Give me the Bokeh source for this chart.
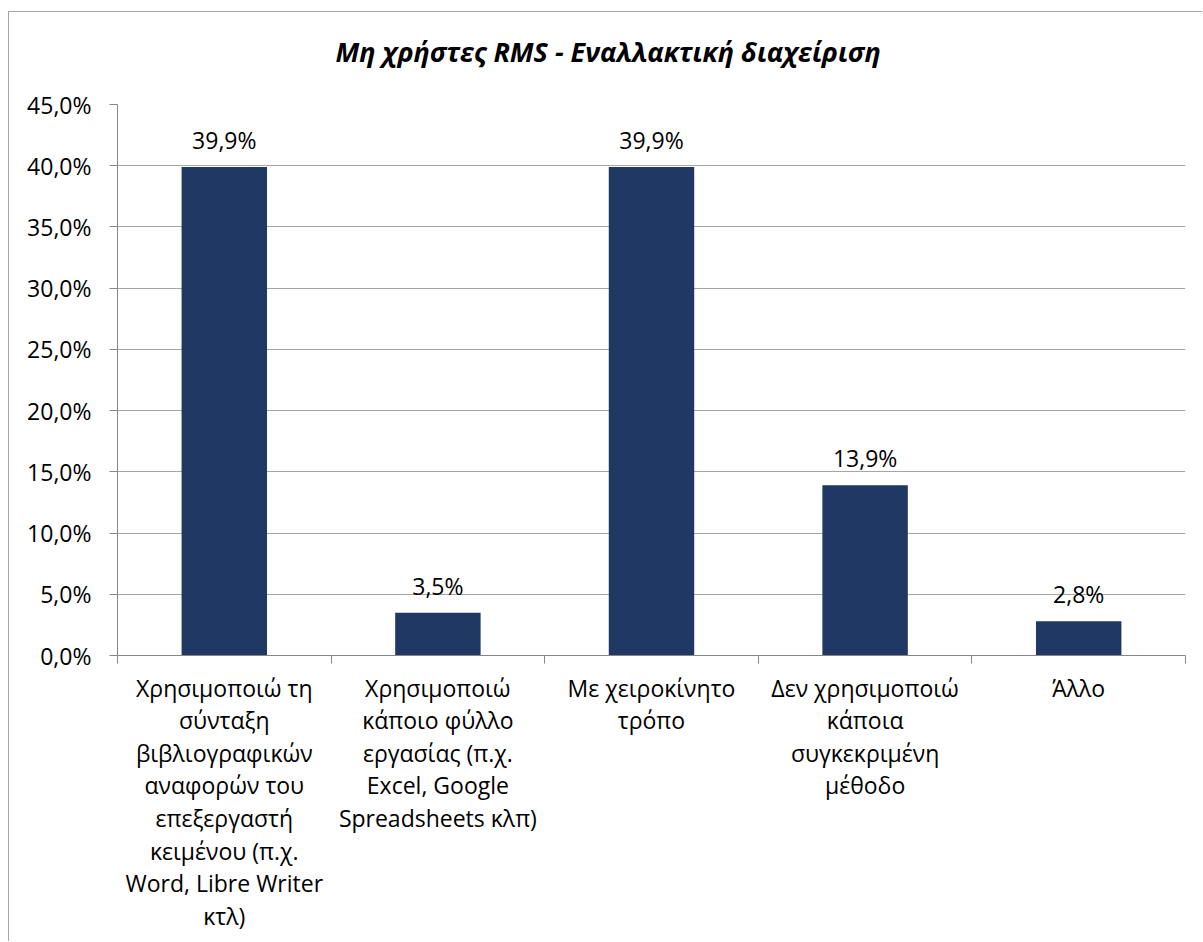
from bokeh.plotting import figure
from bokeh.models import Range1d, FixedTicker, ColumnDataSource, InlineStyleSheet, Title
from bokeh.core.properties import value
from bokeh.embed import file_html
from bokeh.resources import INLINE

title_text = "Μη χρήστες RMS - Εναλλακτική διαχείριση"
categories = [
    "Χρησιμοποιώ τη\nσύνταξη\nβιβλιογραφικών\nαναφορών του\nεπεξεργαστή\nκειμένου (π.χ.\nWord, Libre Writer\nκτλ)",
    "Χρησιμοποιώ\nκάποιο φύλλο\nεργασίας (π.χ.\nExcel, Google\nSpreadsheets κλπ)",
    "Με χειροκίνητο\nτρόπο",
    "Δεν χρησιμοποιώ\nκάποια\nσυγκεκριμένη\nμέθοδο",
    "Άλλο",
]
values = [39.9, 3.5, 39.9, 13.9, 2.8]
y_ticks = [0, 5, 10, 15, 20, 25, 30, 35, 40, 45]

FONT = "Open Sans"
BAR = "#203864"
GRID = "#a6a6a6"
AXIS = "#868686"

n = len(categories)
xs = [i + 0.5 for i in range(n)]
labels = [f"{v:.1f}".replace(".", ",") + "%" for v in values]
src = ColumnDataSource(dict(x=xs, top=values, lab=labels))

W, H = 1194, 930
p = figure(width=W, height=H, output_backend="svg", toolbar_location=None,
           x_range=Range1d(0, n), y_range=Range1d(0, 45),
           min_border_left=108, min_border_right=18,
           min_border_top=92, min_border_bottom=287,
           stylesheets=[InlineStyleSheet(css=":host { border-left: 1px solid #a6a6a6; border-top: 1px solid #a6a6a6; margin-top: 11px; margin-left: 8px; }")])
p.outline_line_color = None
p.background_fill_color = "white"
p.border_fill_color = "white"

# spacer between title and frame, then the title itself
p.add_layout(Title(text=" ", text_font=FONT, text_font_size="19px", standoff=2), "above")
p.add_layout(Title(text=title_text, align="left", offset=218, standoff=10,
                   text_font=FONT, text_font_size="27px",
                   text_font_style="bold italic", text_color="#000000"), "above")

p.vbar(x="x", top="top", width=0.4, bottom=0, source=src,
       fill_color=BAR, line_color=None)
p.text(x="x", y="top", text="lab", source=src, text_align="center",
       text_baseline="middle", y_offset=-27, text_font=value(FONT),
       text_font_size="23px", text_color="#000000")

# y axis
p.yaxis.ticker = FixedTicker(ticks=y_ticks)
p.yaxis.major_label_overrides = {t: f"{t:.1f}".replace(".", ",") + "%" for t in y_ticks}
p.yaxis.major_tick_in = 0
p.yaxis.major_tick_out = 8
p.yaxis.minor_tick_line_color = None
p.yaxis.major_tick_line_color = AXIS
p.yaxis.axis_line_color = AXIS
p.yaxis.major_label_text_font = FONT
p.yaxis.major_label_text_font_size = "23px"
p.yaxis.major_label_text_color = "#000000"
p.yaxis.major_label_standoff = 18

# x axis: labels at centers, ticks at boundaries (minor)
p.xaxis.ticker = FixedTicker(ticks=xs, minor_ticks=list(range(n + 1)))
p.xaxis.major_label_overrides = {x: c for x, c in zip(xs, categories)}
p.xaxis.major_tick_line_color = None
p.xaxis.minor_tick_line_color = AXIS
p.xaxis.minor_tick_in = 0
p.xaxis.minor_tick_out = 8
p.xaxis.axis_line_color = AXIS
p.xaxis.major_label_text_font = FONT
p.xaxis.major_label_text_font_size = "23px"
p.xaxis.major_label_text_color = "#000000"
p.xaxis.major_label_text_line_height = 1.02
p.xaxis.major_label_standoff = 8
p.xaxis.major_label_text_align = "center"

p.xgrid.grid_line_color = None
p.ygrid.ticker = FixedTicker(ticks=y_ticks)
p.ygrid.grid_line_color = GRID
p.ygrid.grid_line_width = 1

open("out.html", "w").write(file_html(p, INLINE))
